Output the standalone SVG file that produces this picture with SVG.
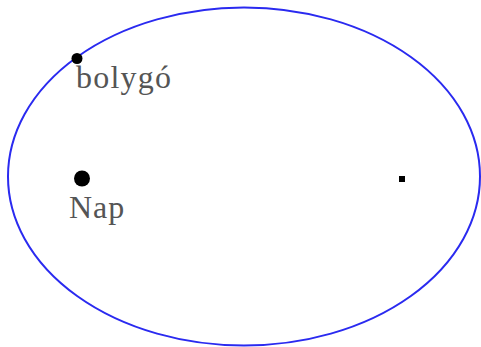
<svg xmlns="http://www.w3.org/2000/svg" width="481" height="347" viewBox="0 0 481 347">
<style>
.lbl{font-family:"Liberation Serif","DejaVu Serif",serif;font-size:32px;fill:#555}
.dot{fill:#000}
</style>
<rect width="481" height="347" fill="#fff"/>
<g id="orbit"><ellipse cx="244" cy="176.5" rx="236" ry="169" fill="none" stroke="#2a2af0" stroke-width="2"/></g>
<g id="connectors"></g>
<g id="sun"><circle class="dot" cx="82" cy="178.5" r="8"/><text class="lbl" x="69" y="218" letter-spacing="1">Nap</text></g>
<g id="planet"><circle class="dot" cx="77" cy="58.5" r="5.5"/><text class="lbl" x="76" y="88" letter-spacing="1.2">bolygó</text></g>
<g id="focus"><rect class="dot" x="399" y="176" width="6" height="6"/></g>
</svg>
